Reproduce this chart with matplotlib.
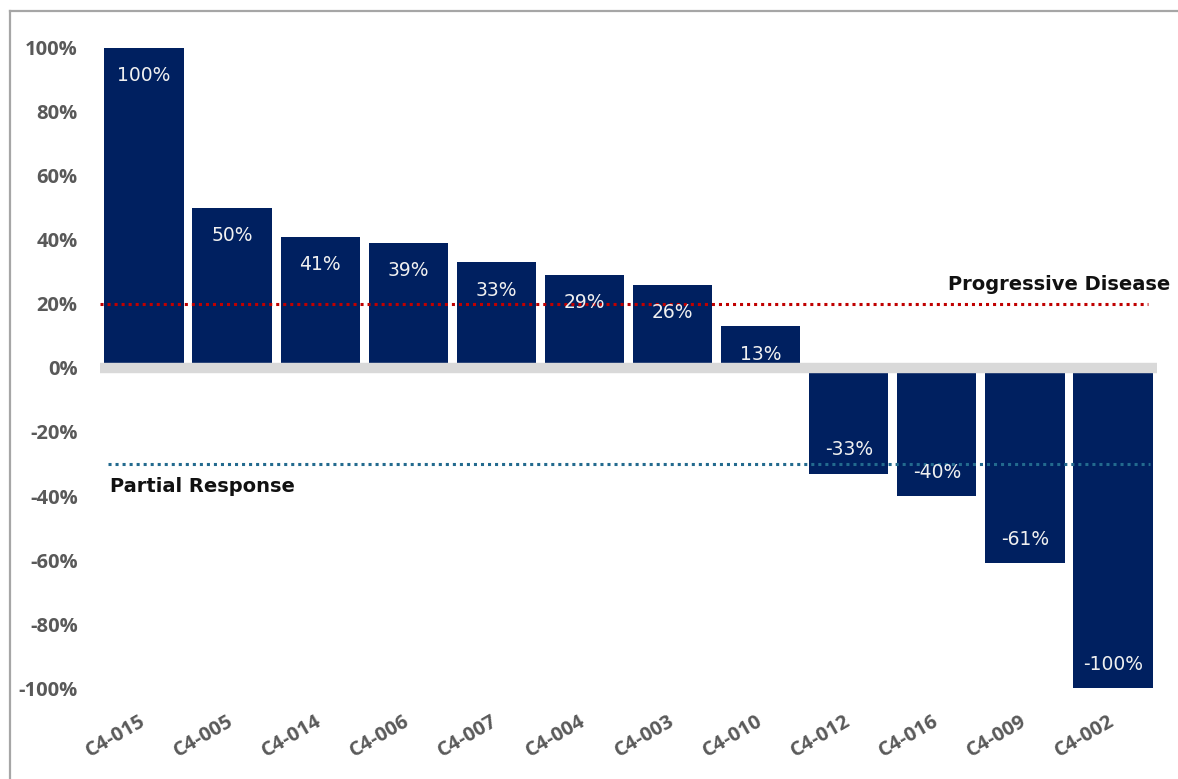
import numpy as np
import matplotlib
matplotlib.use("Agg")
from matplotlib import pyplot as plt
from matplotlib.lines import Line2D
from matplotlib.ticker import FuncFormatter
from matplotlib.transforms import ScaledTranslation

patients = ["C4-015", "C4-005", "C4-014", "C4-006", "C4-007", "C4-004",
            "C4-003", "C4-010", "C4-012", "C4-016", "C4-009", "C4-002"]
change = [100, 50, 41, 39, 33, 29, 26, 13, -33, -40, -61, -100]
pd_level = 20
pr_level = -30
y_ticks = [100, 80, 60, 40, 20, 0, -20, -40, -60, -80, -100]

navy = "#002060"
fig = plt.figure(figsize=(11.78, 7.79), dpi=100)
ax = fig.add_axes([100 / 1178, 91 / 779, 1057 / 1178, 640 / 779])

x = np.arange(len(patients))
bars = ax.bar(x, change, width=0.9, color=navy, zorder=2)

# data labels inside the bar ends
for xi, v in zip(x, change):
    off = -20 if v > 0 else 17
    ax.annotate(f"{v}%", (xi, v), xytext=(0, off), textcoords="offset points",
                ha="center", va="center", color="#f0f0f0", fontsize=13.5,
                family="DejaVu Sans", zorder=4)

# zero line
ax.axhline(0, color="#d9d9d9", lw=7.5, zorder=3)

# thresholds
ax.hlines(pd_level, -0.5, 11.4, colors="#c00000", linestyles=(0, (1, 1.3)), lw=2.2, zorder=3)
ax.hlines(pr_level, -0.41, 11.42, colors="#236a8e", linestyles=(0, (1, 1.3)), lw=2.2, zorder=3)
ax.text(11.65, pd_level + 6.0, "Progressive Disease", ha="right", va="center",
        fontsize=14, fontweight="bold", family="DejaVu Sans", color="#111111",
        clip_on=False)
ax.text(-0.39, pr_level - 7.0, "Partial Response", ha="left", va="center",
        fontsize=14, fontweight="bold", family="DejaVu Sans", color="#111111")

ax.set_xlim(-0.5, len(patients) - 0.5)
ax.set_ylim(-100, 100)
ax.set_yticks(y_ticks)
ax.yaxis.set_major_formatter(FuncFormatter(lambda v, p: f"{v:.0f}%"))
ax.set_xticks(x)
ax.set_xticklabels(patients, rotation=30, ha="right", va="top", rotation_mode="anchor")
ax.tick_params(length=0, labelcolor="#595959")
ax.tick_params(axis="y", pad=16)
ax.tick_params(axis="x", pad=17)
shift = ScaledTranslation(-5 / 100, 0, fig.dpi_scale_trans)
for lab in ax.get_xticklabels():
    lab.set_transform(lab.get_transform() + shift)
for lab in ax.get_xticklabels() + ax.get_yticklabels():
    lab.set_fontsize(14.5)
    lab.set_fontweight("bold")
    lab.set_family("Open Sans")
for s in ax.spines.values():
    s.set_visible(False)

# chart area border (left and top)
fig.add_artist(Line2D([10 / 1178, 10 / 1178], [0, 1 - 11 / 779], color="#a6a6a6", lw=1.6))
fig.add_artist(Line2D([10 / 1178, 1], [1 - 11 / 779, 1 - 11 / 779], color="#a6a6a6", lw=1.6))

fig.savefig("out.png", dpi=100)
